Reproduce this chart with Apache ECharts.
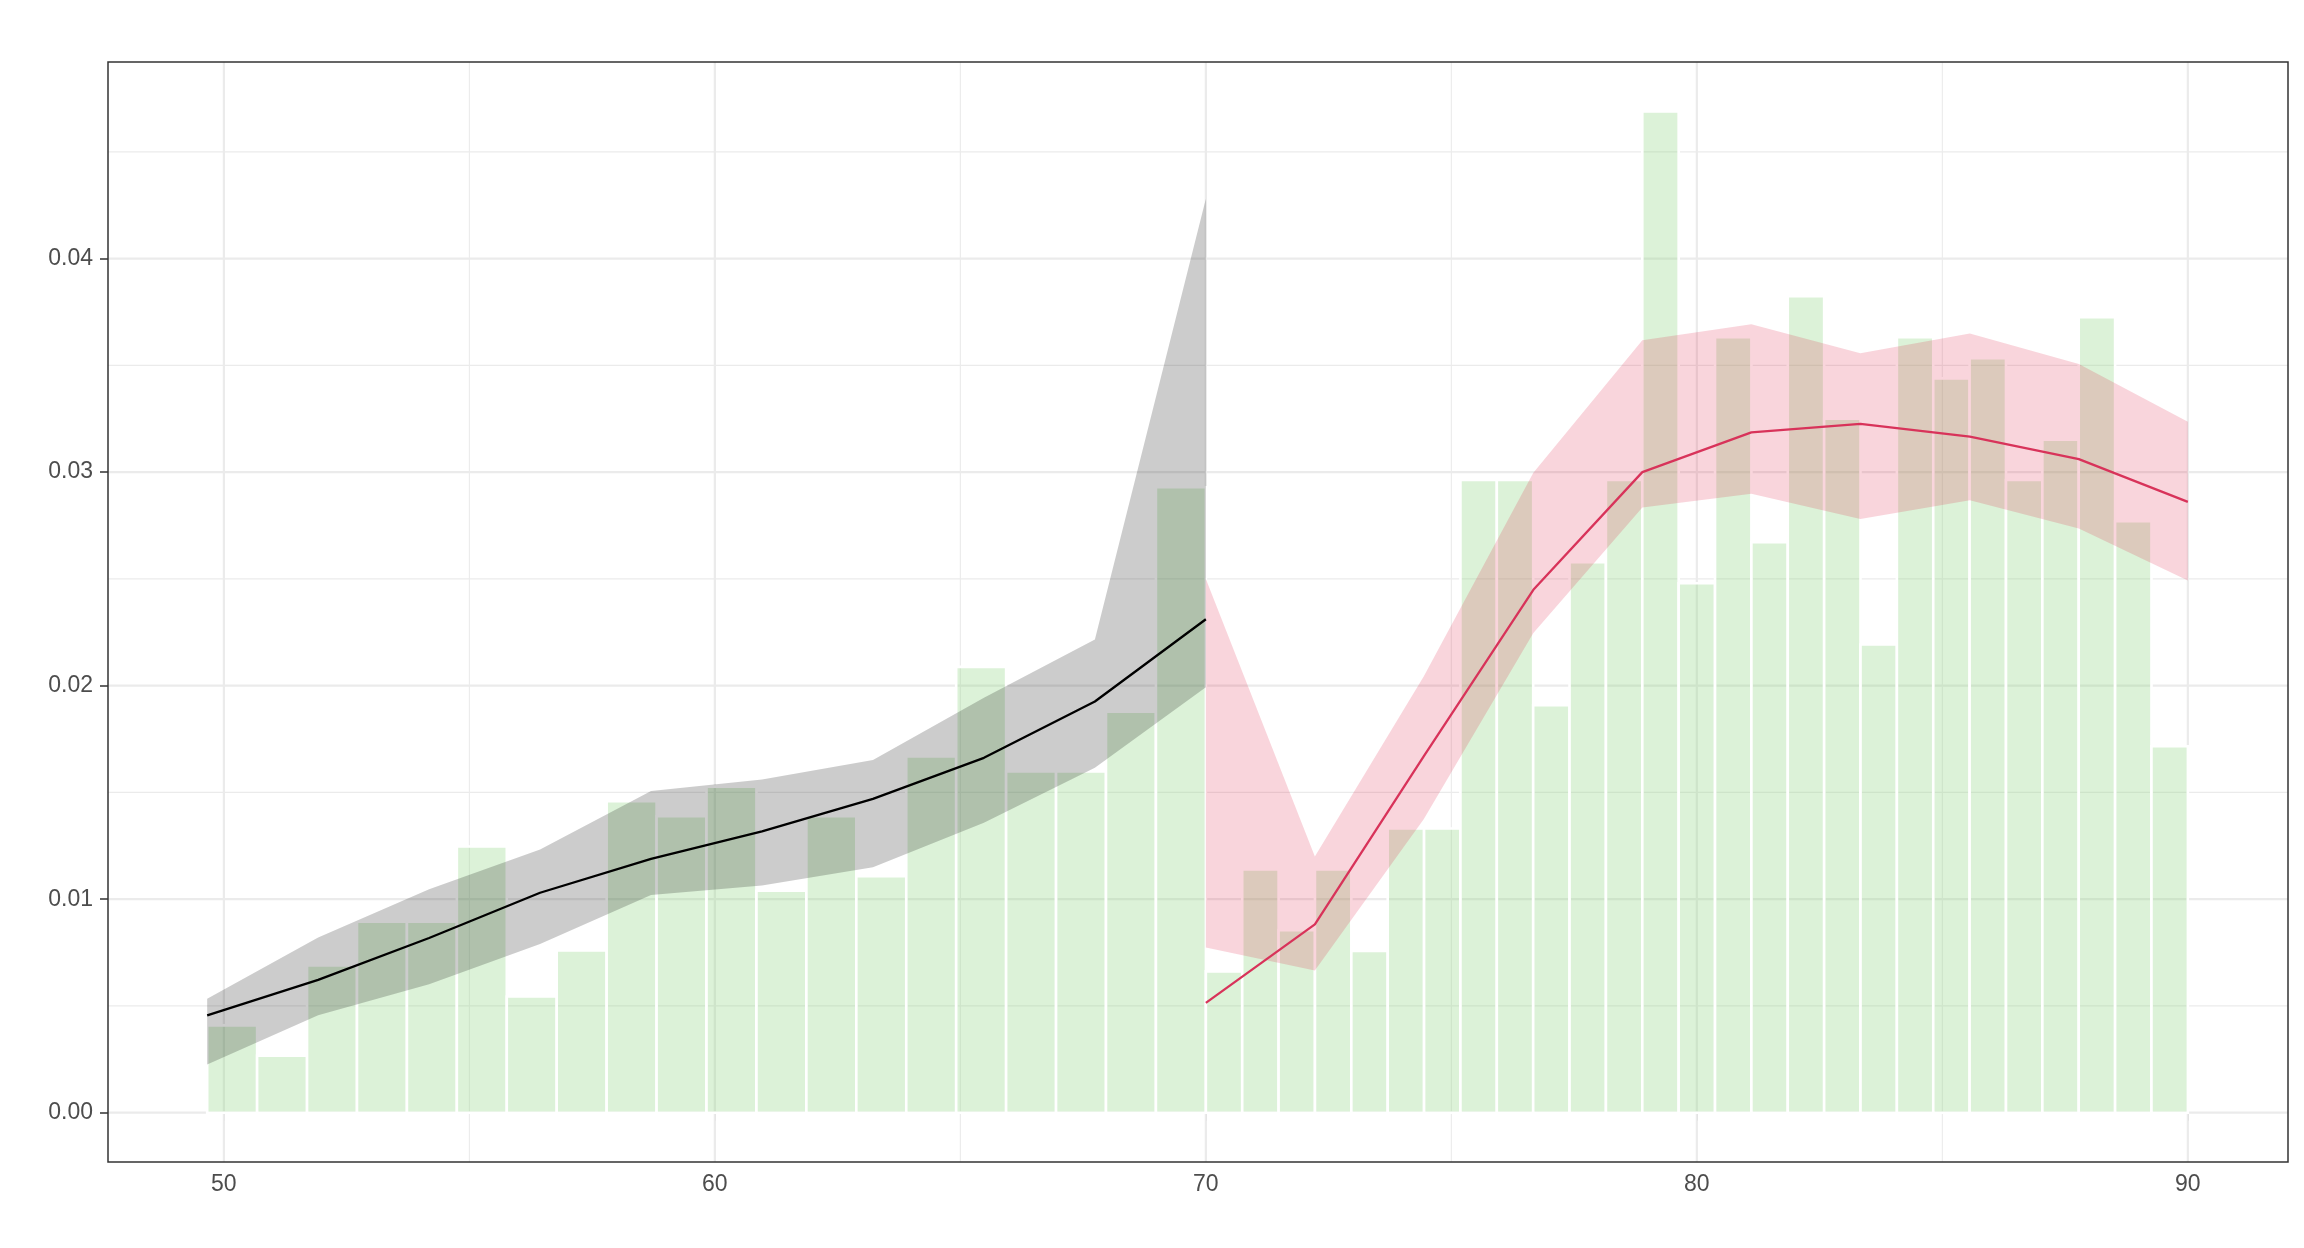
<!DOCTYPE html>
<html><head><meta charset="utf-8">
<script src="https://cdn.jsdelivr.net/npm/echarts@6/dist/echarts.min.js"></script>
<style>html,body{margin:0;padding:0;background:#fff}#c{width:2304px;height:1248px}</style>
</head><body><div id="c"></div>
<script>
// ---- axis ticks / labels ----
const xTicks = [50, 60, 70, 80, 90];
const xMinor = [55, 65, 75, 85];
const yTicks = [0, 0.01, 0.02, 0.03, 0.04];
const yMinor = [0.005, 0.015, 0.025, 0.035, 0.045];
const yTickLabels = ['0.00', '0.01', '0.02', '0.03', '0.04'];

// ---- histogram (density) ----
const leftBinRange = [49.66, 70.0];
const leftHist = [0.00409, 0.00267, 0.00689, 0.00895, 0.00895, 0.01247, 0.00544, 0.0076, 0.01459, 0.01389,
                  0.01527, 0.0104, 0.01389, 0.01108, 0.01669, 0.02088, 0.01598, 0.01598, 0.01878, 0.02929];
const rightBinRange = [70.0, 90.0];
const rightHist = [0.00662, 0.01139, 0.00855, 0.01139, 0.00757, 0.01331, 0.01331, 0.02963, 0.02963, 0.01909,
                   0.02578, 0.02963, 0.04689, 0.0248, 0.03632, 0.02672, 0.03824, 0.0325, 0.02193, 0.03632,
                   0.03439, 0.03534, 0.02963, 0.03152, 0.03726, 0.0277, 0.01716];

// ---- left fit (black) ----
const leftX     = [49.66, 51.92, 54.18, 56.44, 58.70, 60.96, 63.22, 65.48, 67.74, 70.0];
const leftFit   = [0.00456, 0.00622, 0.00818, 0.0103, 0.01189, 0.01318, 0.0147, 0.01662, 0.01926, 0.02311];
const leftLower = [0.00226, 0.00456, 0.00601, 0.0079, 0.0102, 0.01064, 0.01149, 0.01358, 0.01615, 0.01993];
const leftUpper = [0.00534, 0.00821, 0.01047, 0.01233, 0.01507, 0.01561, 0.01652, 0.01943, 0.02216, 0.0428];

// ---- right fit (red) ----
const rightX     = [70.0, 72.22, 74.44, 76.67, 78.89, 81.11, 83.33, 85.56, 87.78, 90.0];
const rightFit   = [0.00514, 0.00882, 0.0167, 0.02449, 0.03, 0.03186, 0.03226, 0.03166, 0.03061, 0.02861];
const rightLower = [0.00774, 0.00666, 0.01375, 0.02247, 0.02834, 0.02899, 0.0278, 0.02868, 0.02736, 0.02493];
const rightUpper = [0.025, 0.012, 0.02044, 0.02997, 0.03618, 0.03693, 0.03557, 0.03649, 0.03507, 0.03236];

const X_MIN = 47.64, X_MAX = 92.04, Y_MIN = -0.00231, Y_MAX = 0.04921;
const FONT = 'Liberation Sans, Arial, sans-serif';

function binData(range, vals) {
  const w = (range[1] - range[0]) / vals.length;
  return vals.map((v, i) => [range[0] + i * w, range[0] + (i + 1) * w, v]);
}
const barData = binData(leftBinRange, leftHist).concat(binData(rightBinRange, rightHist));

function renderBar(params, api) {
  const x0 = api.value(0), x1 = api.value(1), h = api.value(2);
  const p0 = api.coord([x0, h]), p1 = api.coord([x1, 0]);
  return { type: 'rect',
    shape: { x: p0[0], y: p0[1], width: p1[0] - p0[0], height: p1[1] - p0[1] },
    style: { fill: 'rgba(138,212,125,0.3)', stroke: '#ffffff', lineWidth: 2.6 } };
}

function ribbon(xs, lo, hi, color) {
  return {
    type: 'custom', silent: true, z: 3, clip: false,
    data: xs.map((x, i) => [x, lo[i], hi[i]]),
    encode: { x: 0, y: [1, 2] },
    renderItem: (params, api) => {
      if (params.dataIndex !== 0) return null;
      const pts = [];
      for (let i = 0; i < xs.length; i++) pts.push(api.coord([xs[i], hi[i]]));
      for (let i = xs.length - 1; i >= 0; i--) pts.push(api.coord([xs[i], lo[i]]));
      return { type: 'polygon', shape: { points: pts }, style: { fill: color } };
    }
  };
}

function gridLines(params, api) {
  if (params.dataIndex !== 0) return null;
  const ch = [];
  const hl = (v, w) => { const a = api.coord([X_MIN, v]), b = api.coord([X_MAX, v]);
    ch.push({ type: 'line', shape: { x1: a[0], y1: a[1], x2: b[0], y2: b[1] }, style: { stroke: '#EBEBEB', lineWidth: w } }); };
  const vl = (v, w) => { const a = api.coord([v, Y_MIN]), b = api.coord([v, Y_MAX]);
    ch.push({ type: 'line', shape: { x1: a[0], y1: a[1], x2: b[0], y2: b[1] }, style: { stroke: '#EBEBEB', lineWidth: w } }); };
  yMinor.forEach(v => hl(v, 1.1));
  xMinor.forEach(v => vl(v, 1.1));
  yTicks.forEach(v => hl(v, 2.2));
  xTicks.forEach(v => vl(v, 2.2));
  return { type: 'group', children: ch };
}

function border(params, api) {
  if (params.dataIndex !== 0) return null;
  const a = api.coord([X_MIN, Y_MAX]), b = api.coord([X_MAX, Y_MIN]);
  return { type: 'rect', shape: { x: a[0], y: a[1], width: b[0] - a[0], height: b[1] - a[1] },
    style: { fill: 'none', stroke: '#333333', lineWidth: 1.5 } };
}

const chart = echarts.init(document.getElementById('c'), null, { renderer: 'canvas' });
chart.setOption({
  animation: false,
  backgroundColor: '#ffffff',
  grid: { left: 108, right: 16, top: 62, bottom: 86, show: false },
  xAxis: {
    type: 'value', min: X_MIN, max: X_MAX,
    splitLine: { show: false }, axisLine: { show: false },
    axisTick: { show: true, length: 8, lineStyle: { color: '#333333', width: 1.5 }, customValues: xTicks },
    axisLabel: { customValues: xTicks, color: '#4D4D4D', fontSize: 23, fontFamily: FONT, margin: 11 }
  },
  yAxis: {
    type: 'value', min: Y_MIN, max: Y_MAX,
    splitLine: { show: false }, axisLine: { show: false },
    axisTick: { show: true, length: 8, lineStyle: { color: '#333333', width: 1.5 }, customValues: yTicks },
    axisLabel: { customValues: yTicks, color: '#4D4D4D', fontSize: 23, fontFamily: FONT, margin: 15,
      formatter: v => { const i = yTicks.findIndex(t => Math.abs(t - v) < 1e-9); return i >= 0 ? yTickLabels[i] : ''; } }
  },
  series: [
    { type: 'custom', silent: true, z: 1, clip: false, data: [[X_MIN, 0]], renderItem: gridLines },
    { type: 'custom', silent: true, z: 2, data: barData, encode: { x: [0, 1], y: 2 }, renderItem: renderBar },
    ribbon(leftX, leftLower, leftUpper, 'rgba(0,0,0,0.2)'),
    ribbon(rightX, rightLower, rightUpper, 'rgba(220,20,60,0.18)'),
    { type: 'line', silent: true, z: 5, showSymbol: false, symbol: 'none',
      data: leftX.map((x, i) => [x, leftFit[i]]), lineStyle: { color: '#000000', width: 2.3 } },
    { type: 'line', silent: true, z: 5, showSymbol: false, symbol: 'none',
      data: rightX.map((x, i) => [x, rightFit[i]]), lineStyle: { color: '#D8335A', width: 2.3 } },
    { type: 'custom', silent: true, z: 10, clip: false, data: [[X_MIN, 0]], renderItem: border }
  ]
});
</script>
</body></html>
